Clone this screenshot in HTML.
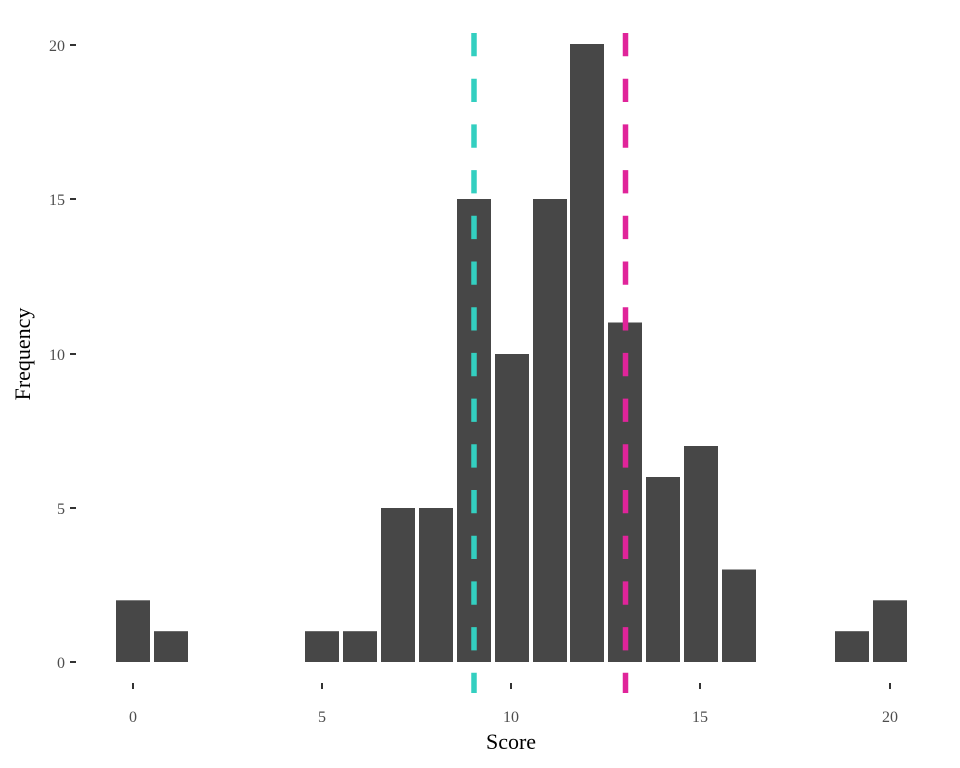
<!DOCTYPE html>
<html><head><meta charset="utf-8"><style>html,body{margin:0;padding:0;background:#fff}svg{display:block}</style></head>
<body>
<svg width="960" height="768" xmlns="http://www.w3.org/2000/svg" font-family="Liberation Serif, serif">
<rect width="960" height="768" fill="#fff"/>
<g fill="#474747">
<rect x="116" y="600.3" width="34" height="61.7"/>
<rect x="154" y="631.2" width="34" height="30.8"/>
<rect x="305" y="631.2" width="34" height="30.8"/>
<rect x="343" y="631.2" width="34" height="30.8"/>
<rect x="381" y="508" width="34" height="154"/>
<rect x="419" y="508" width="34" height="154"/>
<rect x="457" y="199" width="34" height="463"/>
<rect x="495" y="354" width="34" height="308"/>
<rect x="533" y="199" width="34" height="463"/>
<rect x="570" y="44" width="34" height="618"/>
<rect x="608" y="322.5" width="34" height="339.5"/>
<rect x="646" y="477" width="34" height="185"/>
<rect x="684" y="446" width="34" height="216"/>
<rect x="722" y="569.5" width="34" height="92.5"/>
<rect x="835" y="631.2" width="34" height="30.8"/>
<rect x="873" y="600.3" width="34" height="61.7"/>
</g>
<line x1="474" y1="33" x2="474" y2="693" stroke="#33cfc0" stroke-width="5.5" stroke-dasharray="23.3,22.4"/>
<line x1="625.5" y1="33" x2="625.5" y2="693" stroke="#e0249a" stroke-width="5.5" stroke-dasharray="23.3,22.4"/>
<g stroke="#333" stroke-width="2">
<line x1="70" y1="45" x2="76" y2="45"/><line x1="70" y1="199" x2="76" y2="199"/>
<line x1="70" y1="354" x2="76" y2="354"/><line x1="70" y1="508" x2="76" y2="508"/>
<line x1="70" y1="662" x2="76" y2="662"/>
<line x1="133" y1="683" x2="133" y2="689"/><line x1="322" y1="683" x2="322" y2="689"/>
<line x1="511" y1="683" x2="511" y2="689"/><line x1="700" y1="683" x2="700" y2="689"/>
<line x1="890" y1="683" x2="890" y2="689"/>
</g>
<g fill="#4d4d4d" font-size="16" text-anchor="end">
<text x="65" y="51">20</text><text x="65" y="205">15</text><text x="65" y="360">10</text>
<text x="65" y="514">5</text><text x="65" y="668">0</text>
</g>
<g fill="#4d4d4d" font-size="16" text-anchor="middle">
<text x="133" y="722">0</text><text x="322" y="722">5</text><text x="511" y="722">10</text>
<text x="700" y="722">15</text><text x="890" y="722">20</text>
</g>
<text x="511" y="749" font-size="22" text-anchor="middle" fill="#000">Score</text>
<text transform="translate(30,354) rotate(-90)" font-size="22" text-anchor="middle" fill="#000">Frequency</text>
</svg>
</body></html>
